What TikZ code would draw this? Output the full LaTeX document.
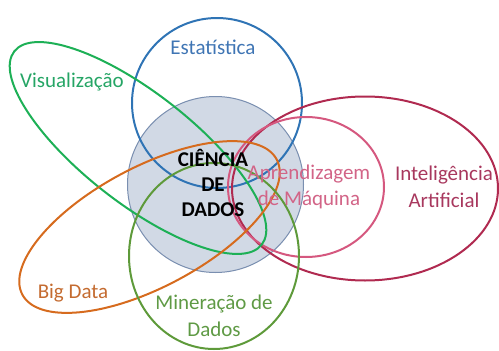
\documentclass[tikz,border=0pt]{standalone}
\usepackage{fontspec}
\setmainfont{Carlito}
\definecolor{cBlue}{HTML}{2F74B5}
\definecolor{cGreen}{HTML}{1DB056}
\definecolor{cOrange}{HTML}{D66B1E}
\definecolor{cOlive}{HTML}{5E9A3A}
\definecolor{cPink}{HTML}{D5587F}
\definecolor{cCrimson}{HTML}{B02A50}
\definecolor{tBlue}{HTML}{3F75B4}
\definecolor{tGreen}{HTML}{25A565}
\definecolor{tOrange}{HTML}{C46B30}
\definecolor{tOlive}{HTML}{5F9A45}
\definecolor{tPink}{HTML}{D26487}
\definecolor{tCrimson}{HTML}{A8385E}
\definecolor{cFill}{HTML}{D1D9E5}
\definecolor{cEdge}{HTML}{7A8FB0}
\tikzset{
  ring/.style={line width=2pt},
  lbl/.style={font=\fontsize{21}{26.5}\selectfont, align=center, inner sep=0pt}
}
\begin{document}
\begin{tikzpicture}[x=1pt,y=-1pt]
\useasboundingbox (0,0) rectangle (499,351);
% Ciencia de Dados
\fill[cFill] (215.5,184.5) circle (88pt);
\draw[cEdge, line width=1pt] (215.5,184.5) circle (88pt);
% Estatistica
\draw[ring, cBlue] (217,103) circle (85pt);
% Inteligencia Artificial
\draw[ring, cCrimson] (365,188.5) ellipse [x radius=133pt, y radius=92pt];
% Aprendizagem de Maquina
\draw[ring, cPink] (306,187) ellipse [x radius=78pt, y radius=70pt];
% Visualizacao
\draw[ring, cGreen, rotate around={-38:(138,148)}] (138,148) ellipse [x radius=157pt, y radius=55pt];
% Big Data
\draw[ring, cOrange, rotate around={28:(149.5,227)}] (149.5,227) ellipse [x radius=144pt, y radius=60pt];
% Mineracao de Dados
\draw[ring, cOlive] (214,256) ellipse [x radius=85pt, y radius=93pt];
% labels
\node[lbl, text=tBlue] (est) at (213,47) {Estatística};
\node[lbl, text=tGreen] (vis) at (72,82) {Visualização};
\node[lbl, font=\fontsize{21}{25}\selectfont\bfseries] (cd) at (213,183) {CIÊNCIA\\DE\\DADOS};
\node[lbl, text=tPink] (apr) at (309,187) {Aprendizagem\\de Máquina};
\node[lbl, text=tCrimson] (ia) at (444,187) {Inteligência\\Artificial};
\node[lbl, text=tOrange] (bd) at (73,293) {Big Data};
\node[lbl, text=tOlive] (min) at (214,316) {Mineração de\\Dados};
\end{tikzpicture}
\end{document}
